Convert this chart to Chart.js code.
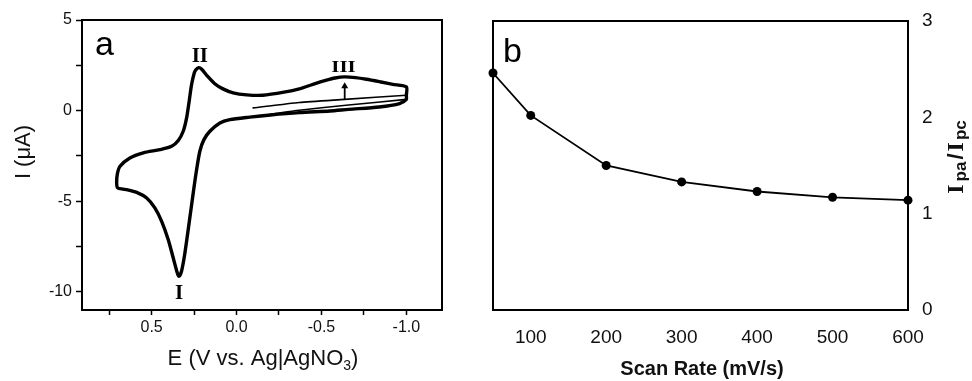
<!DOCTYPE html>
<html>
<head>
<meta charset="utf-8">
<script src="https://cdn.jsdelivr.net/npm/chart.js@4.4.1/dist/chart.umd.min.js"></script>
<style>
  html, body { margin: 0; padding: 0; background: #fff; }
  #wrap { position: relative; width: 972px; height: 381px; overflow: hidden; }
  #cv { position: absolute; left: 0; top: 0; }
  #rate { position: absolute; left: 480px; top: 0; }
</style>
</head>
<body>
<div id="wrap">
  <canvas id="cv" width="480" height="381"></canvas>
  <canvas id="rate" width="492" height="381"></canvas>
</div>
<script>
// ---------- Panel a: cyclic voltammogram ----------
// first sweep, from the rest potential out to -1.0 V
const firstSweepE = [-0.098, -0.37, -0.637, -1.0];
const firstSweepI = [0.15, 0.45, 0.62, 0.85];

// full cycle: reverse scan (upper branch) then forward scan (lower branch)
const cycleE = [-1.0, -1.0, -0.92, -0.85, -0.765, -0.70, -0.637, -0.58, -0.53, -0.45, -0.37, -0.28, -0.155,
  -0.06, 0.02, 0.08, 0.13, 0.176, 0.205, 0.222, 0.24, 0.249, 0.265, 0.279, 0.294, 0.314, 0.343, 0.382,
  0.451, 0.549, 0.628, 0.686, 0.702, 0.706, 0.700, 0.670, 0.647, 0.588, 0.529, 0.481, 0.441, 0.402,
  0.373, 0.349, 0.339, 0.324, 0.304, 0.279, 0.255, 0.235, 0.216, 0.192, 0.157, 0.098, 0.039, -0.078,
  -0.2, -0.37, -0.55, -0.66, -0.84, -0.96, -1.0, -1.0];
const cycleI = [0.82, 1.31, 1.45, 1.58, 1.73, 1.82, 1.86, 1.80, 1.68, 1.45, 1.20, 1.02, 0.85,
  0.87, 0.98, 1.20, 1.50, 1.95, 2.28, 2.37, 2.25, 2.08, 1.43, 0.51, -0.40, -1.14, -1.65, -1.97,
  -2.15, -2.33, -2.61, -3.07, -3.50, -3.99, -4.26, -4.33, -4.36, -4.51, -4.82, -5.37, -6.11, -7.12,
  -8.12, -8.95, -9.14, -8.86, -7.85, -6.19, -4.54, -3.25, -2.24, -1.60, -1.14, -0.68, -0.50, -0.36,
  -0.24, -0.11, -0.02, 0.07, 0.20, 0.39, 0.62, 0.82];

// second forward scan, visible where it separates from the first one
const secondSweepE = [-0.2, -0.37, -0.66, -1.0];
const secondSweepI = [-0.2, 0.02, 0.31, 0.62];

const potentialTicks = [0.75, 0.5, 0.25, 0.0, -0.25, -0.5, -0.75, -1.0];
const potentialLabels = ['', '0.5', '', '0.0', '', '-0.5', '', '-1.0'];
const currentTicks = [5, 2.5, 0, -2.5, -5, -7.5, -10];
const currentLabels = ['5', '', '0', '', '-5', '', '-10'];

// ---------- Panel b: peak current ratio vs scan rate ----------
const scanRates = [50, 100, 200, 300, 400, 500, 600];
const peakRatio = [2.46, 2.02, 1.50, 1.33, 1.23, 1.17, 1.14];
const rateTicks = [100, 200, 300, 400, 500, 600];
const ratioTicks = [0, 1, 2, 3];

const SANS = '"Liberation Sans", Arial, Helvetica, sans-serif';
const SERIF = '"Liberation Serif", "Times New Roman", serif';
const INK = '#111';

const toPoints = (xs, ys) => xs.map((v, i) => ({ x: v, y: ys[i] }));

// draws a row of text runs (for subscripts) centred on cx, on baseline y;
// a run may carry an extra gap after it
function drawRuns(ctx, runs, cx, y) {
  let total = 0;
  runs.forEach(r => {
    ctx.font = r.font;
    r.w = ctx.measureText(r.text).width + (r.gap || 0);
    total += r.w;
  });
  let x = cx - total / 2;
  ctx.textAlign = 'left';
  ctx.textBaseline = 'alphabetic';
  runs.forEach(r => { ctx.font = r.font; ctx.fillText(r.text, x, y + (r.shift || 0)); x += r.w; });
}

function drawFrame(ctx, a) {
  ctx.strokeStyle = '#000';
  ctx.lineWidth = 2;
  ctx.strokeRect(a.left, a.top, a.right - a.left, a.bottom - a.top);
}

const cvDecor = {
  id: 'cvDecor',
  afterDatasetsDraw(chart) {
    const { ctx, chartArea: a, scales: { x, y } } = chart;
    ctx.save();
    drawFrame(ctx, a);
    ctx.fillStyle = '#000';

    // panel letter
    ctx.font = '34px ' + SANS;
    ctx.textAlign = 'left';
    ctx.textBaseline = 'alphabetic';
    ctx.fillText('a', a.left + 13, a.top + 35);

    // peak labels
    ctx.textAlign = 'center';
    ctx.font = 'bold 21px ' + SERIF;
    ctx.fillText('II', x.getPixelForValue(0.216), y.getPixelForValue(2.70));
    ctx.fillText('I', x.getPixelForValue(0.339), y.getPixelForValue(-10.42));
    ctx.save();
    ctx.translate(x.getPixelForValue(-0.63), y.getPixelForValue(2.15));
    ctx.scale(1, 0.8);
    ctx.fillText('III', 0, 0);
    ctx.restore();

    // arrow showing growth of peak III
    const ax = x.getPixelForValue(-0.637);
    const ay0 = y.getPixelForValue(0.62);
    const ay1 = y.getPixelForValue(1.56);
    ctx.strokeStyle = '#000';
    ctx.lineWidth = 1.8;
    ctx.beginPath();
    ctx.moveTo(ax, ay0);
    ctx.lineTo(ax, ay1 + 4);
    ctx.stroke();
    ctx.beginPath();
    ctx.moveTo(ax, ay1);
    ctx.lineTo(ax - 3.5, ay1 + 6);
    ctx.lineTo(ax + 3.5, ay1 + 6);
    ctx.closePath();
    ctx.fill();

    // axis titles
    ctx.fillStyle = INK;
    drawRuns(ctx, [
      { text: 'E (V vs. Ag|AgNO', font: '22px ' + SANS },
      { text: '3', font: '14px ' + SANS, shift: 5 },
      { text: ')', font: '22px ' + SANS }
    ], 263, 365);
    ctx.save();
    ctx.translate(30, 152);
    ctx.rotate(-Math.PI / 2);
    drawRuns(ctx, [{ text: 'I (\u03BCA)', font: '22px ' + SANS }], 0, 0);
    ctx.restore();
    ctx.restore();
  }
};

const rateDecor = {
  id: 'rateDecor',
  afterDatasetsDraw(chart) {
    const { ctx, chartArea: a } = chart;
    ctx.save();
    drawFrame(ctx, a);
    ctx.fillStyle = '#000';
    ctx.font = '34px ' + SANS;
    ctx.textAlign = 'left';
    ctx.textBaseline = 'alphabetic';
    ctx.fillText('b', a.left + 10, a.top + 41);

    ctx.fillStyle = INK;
    drawRuns(ctx, [{ text: 'Scan Rate (mV/s)', font: 'bold 20px ' + SANS }], 222, 375);
    ctx.save();
    ctx.translate(483, 157);
    ctx.rotate(-Math.PI / 2);
    drawRuns(ctx, [
      { text: 'I', font: 'bold 24px ' + SERIF, gap: 3 },
      { text: 'pa', font: 'bold 17px ' + SANS, shift: 3, gap: 2 },
      { text: '/', font: 'bold 22px ' + SANS, gap: 2 },
      { text: 'I', font: 'bold 24px ' + SERIF, gap: 2 },
      { text: 'pc', font: 'bold 17px ' + SANS, shift: 3 }
    ], 0, 0);
    ctx.restore();
    ctx.restore();
  }
};

new Chart(document.getElementById('cv'), {
  type: 'scatter',
  data: {
    datasets: [
      { data: toPoints(firstSweepE, firstSweepI), showLine: true, borderColor: '#000', borderWidth: 1.6,
        pointRadius: 0, tension: 0.2, borderCapStyle: 'round', borderJoinStyle: 'round' },
      { data: toPoints(cycleE, cycleI), showLine: true, borderColor: '#000', borderWidth: 3.4,
        pointRadius: 0, tension: 0.25, borderCapStyle: 'round', borderJoinStyle: 'round' },
      { data: toPoints(secondSweepE, secondSweepI), showLine: true, borderColor: '#000', borderWidth: 1.6,
        pointRadius: 0, tension: 0.2, borderCapStyle: 'round', borderJoinStyle: 'round' }
    ]
  },
  options: {
    responsive: false,
    animation: false,
    events: [],
    layout: { padding: { left: 0, top: 20, right: 38, bottom: 0 } },
    plugins: { legend: { display: false }, tooltip: { enabled: false } },
    scales: {
      x: {
        type: 'linear', reverse: true, min: -1.21, max: 0.91,
        afterFit: s => { s.height = 71; },
        afterBuildTicks: s => { s.ticks = potentialTicks.map(v => ({ value: v })); },
        ticks: { callback: (v, i) => potentialLabels[i], font: { family: SANS, size: 16 }, color: INK,
                 padding: 3, maxRotation: 0, autoSkip: false },
        grid: { display: true, drawOnChartArea: false, drawTicks: true, tickLength: 5, tickColor: '#000', tickWidth: 1.5 },
        border: { display: false }
      },
      y: {
        type: 'linear', min: -11, max: 5,
        afterFit: s => { s.width = 82; },
        afterBuildTicks: s => { s.ticks = currentTicks.map(v => ({ value: v })); },
        ticks: { callback: (v, i) => currentLabels[i], font: { family: SANS, size: 16 }, color: INK,
                 padding: 4, autoSkip: false },
        grid: { display: true, drawOnChartArea: false, drawTicks: true, tickLength: 6, tickColor: '#000', tickWidth: 1.5 },
        border: { display: false }
      }
    }
  },
  plugins: [cvDecor]
});

new Chart(document.getElementById('rate'), {
  type: 'scatter',
  data: {
    datasets: [
      { data: toPoints(scanRates, peakRatio), showLine: true, borderColor: '#000', borderWidth: 1.8,
        pointRadius: 4.5, pointBackgroundColor: '#000', pointBorderColor: '#000', pointBorderWidth: 0,
        tension: 0, clip: false }
    ]
  },
  options: {
    responsive: false,
    animation: false,
    events: [],
    layout: { padding: { left: 13, top: 21, right: 0, bottom: 0 } },
    plugins: { legend: { display: false }, tooltip: { enabled: false } },
    scales: {
      x: {
        type: 'linear', min: 50, max: 600,
        afterFit: s => { s.height = 71; },
        afterBuildTicks: s => { s.ticks = rateTicks.map(v => ({ value: v })); },
        ticks: { font: { family: SANS, size: 19 }, color: INK, padding: 16, maxRotation: 0, autoSkip: false },
        grid: { display: false, drawTicks: false },
        border: { display: false }
      },
      y: {
        type: 'linear', position: 'right', min: 0, max: 3,
        afterFit: s => { s.width = 64; },
        afterBuildTicks: s => { s.ticks = ratioTicks.map(v => ({ value: v })); },
        // no visible tick marks; the transparent tick length only spaces the labels off the frame
        ticks: { font: { family: SANS, size: 19 }, color: INK, padding: 0, autoSkip: false },
        grid: { display: true, drawOnChartArea: false, drawTicks: true, tickLength: 14, tickColor: 'rgba(0,0,0,0)' },
        border: { display: false }
      }
    }
  },
  plugins: [rateDecor]
});
</script>
</body>
</html>
